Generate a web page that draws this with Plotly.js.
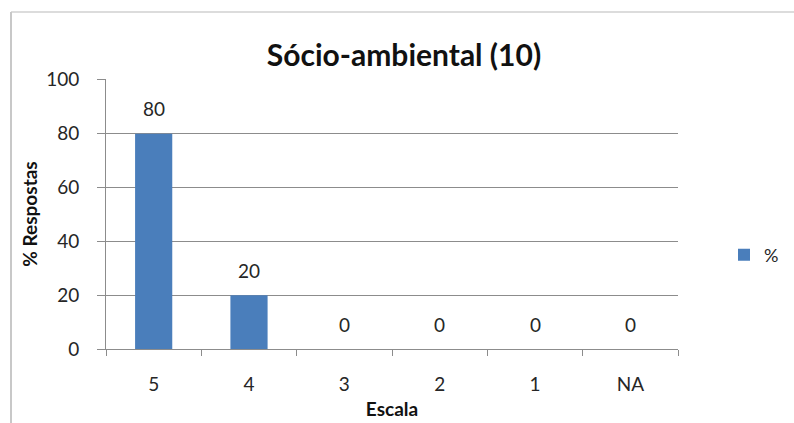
<!DOCTYPE html>
<html><head><meta charset="utf-8">
<script src="https://cdn.plot.ly/plotly-3.0.1.min.js"></script>
<style>body{margin:0;background:#fff}#c{width:794px;height:423px}</style>
</head><body><div id="c"></div>
<script>
const categories = ["5","4","3","2","1","NA"];
const values = [80,20,0,0,0,0];
const seriesName = "%";
const titleText = "Sócio-ambiental (10)";
const yTitle = "% Respostas";
const xTitle = "Escala";

const W=794,H=423, L=106, R=794-678, T=79, B=423-349;
const pw=W-L-R, ph=H-T-B;
const px = p => (p-L)/pw, py = p => (H-B-p)/ph;
const fnt = "Lato, Open Sans, sans-serif";
const txtc = "#262626";

Plotly.newPlot("c",[{
  type:"bar", x:categories, y:values, name:seriesName,
  marker:{color:"#4a7ebb", line:{width:0}},
  width:0.39
}],{
  width:W,height:H,
  margin:{l:L,r:R,t:T,b:B,pad:0,autoexpand:false},
  paper_bgcolor:"#fff",plot_bgcolor:"#fff",
  title:{text:titleText,x:404/W,xref:"container",xanchor:"center",y:1-55/H,yanchor:"middle",
    font:{family:fnt,size:30,color:"#111",weight:"bold"}},
  showlegend:true,
  legend:{x:px(724),y:py(255),xanchor:"left",yanchor:"middle",
    font:{family:fnt,size:18,color:txtc},itemwidth:30,tracegroupgap:0},
  annotations: categories.map((c,i)=>({x:i,y:values[i],xref:"x",yref:"y",
    text:String(values[i]),showarrow:false,yanchor:"middle",yshift:25,
    font:{family:fnt,size:19,color:txtc}})),
  xaxis:{type:"category",showline:true,linecolor:"#8c8c8c",linewidth:1,
    ticks:"outside",tickson:"boundaries",ticklen:6,tickcolor:"#8c8c8c",
    ticklabelstandoff:18,
    tickfont:{family:fnt,size:19,color:txtc},showgrid:false,
    title:{text:xTitle,font:{family:fnt,size:19,color:"#111",weight:"bold"},standoff:8}},
  yaxis:{range:[0,100.3],tickvals:[0,20,40,60,80,100],showline:true,linecolor:"#8c8c8c",linewidth:1,
    ticks:"outside",ticklen:8,tickcolor:"#8c8c8c",
    ticklabelstandoff:14,
    gridcolor:"#8c8c8c",gridwidth:1,zeroline:false,
    tickfont:{family:fnt,size:19,color:txtc},
    title:{text:yTitle,font:{family:fnt,size:19,color:"#111",weight:"bold"},standoff:3}},
  shapes:[
    {type:"line",xref:"paper",yref:"paper",x0:px(11),x1:px(794),y0:py(12),y1:py(12),line:{color:"#dcdcdc",width:2}},
    {type:"line",xref:"paper",yref:"paper",x0:px(11),x1:px(11),y0:py(12),y1:py(423),line:{color:"#c8c8c8",width:2}}
  ]
},{displayModeBar:false,staticPlot:true});
</script></body></html>
